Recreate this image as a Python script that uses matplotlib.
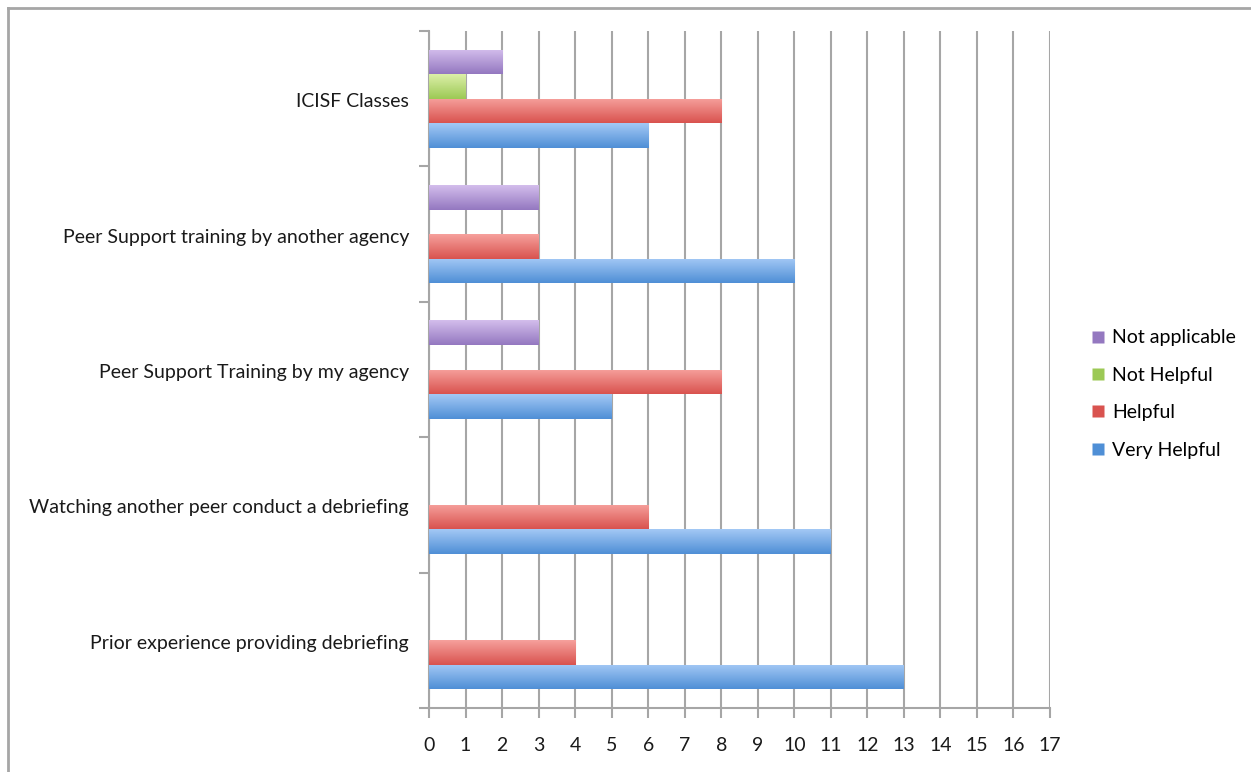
import matplotlib.pyplot as plt
import matplotlib.lines as mlines
import numpy as np

# Data, bottom to top as drawn
categories = [
    "Prior experience providing debriefing",
    "Watching another peer conduct a debriefing",
    "Peer Support Training by my agency",
    "Peer Support training by another agency",
    "ICISF Classes",
]
very_helpful = [13, 11, 5, 10, 6]
helpful = [4, 6, 8, 3, 8]
not_helpful = [0, 0, 0, 0, 1]
not_applicable = [0, 0, 3, 3, 2]

series = [
    ("Very Helpful", very_helpful, ("#a3c8f5", "#4f8fd6")),
    ("Helpful", helpful, ("#f6a09c", "#d9534f")),
    ("Not Helpful", not_helpful, ("#dcefa8", "#9cc955")),
    ("Not applicable", not_applicable, ("#d3bdec", "#9478c0")),
]

plt.rcParams["font.family"] = ["Lato", "DejaVu Sans"]

fig = plt.figure(figsize=(12.51, 7.72), dpi=100)
ax = fig.add_axes([429 / 1251, 1 - 708 / 772, (1050 - 429) / 1251, (708 - 31) / 772])

n = len(series)
h = 0.181
y = np.arange(len(categories))

legend_handles = []
for i, (name, vals, (c_top, c_bot)) in enumerate(series):
    offs = (i - (n - 1) / 2) * h
    bars = ax.barh(y + offs, vals, height=h, color=c_bot, zorder=3, linewidth=0)
    # vertical gradient on each bar
    grad = np.linspace(0, 1, 50).reshape(-1, 1)
    top = np.array(plt.matplotlib.colors.to_rgb(c_top))
    bot = np.array(plt.matplotlib.colors.to_rgb(c_bot))
    img = top[None, None, :] * (1 - grad[..., None]) + bot[None, None, :] * grad[..., None]
    for b in bars:
        if b.get_width() <= 0:
            continue
        x0, y0 = b.get_x(), b.get_y()
        im = ax.imshow(img, extent=(x0, x0 + b.get_width(), y0, y0 + b.get_height()),
                       aspect="auto", origin="upper", zorder=4, interpolation="bilinear")
        im.set_clip_path(b)
    legend_handles.append((name, c_bot))

ax.set_xlim(0, 17)
ax.set_ylim(-0.5, len(categories) - 0.5)
ax.set_xticks(range(0, 18))
ax.set_xticklabels([str(v) for v in range(0, 18)], fontsize=14)
ax.set_yticks(list(y - 0.5) + [len(categories) - 0.5])
ax.set_yticklabels([])
for i, cat in enumerate(categories):
    ax.annotate(cat, (0, y[i]), xytext=(-20, -3), textcoords="offset pixels",
                ha="right", va="center", fontsize=14, color="#1a1a1a")

ax.grid(axis="x", color="#a6a6a6", linewidth=1.5, zorder=0)
ax.set_axisbelow(True)
for s in ["top", "right"]:
    ax.spines[s].set_visible(False)
for s in ["left", "bottom"]:
    ax.spines[s].set_color("#a6a6a6")
    ax.spines[s].set_linewidth(1.5)
ax.tick_params(axis="both", colors="#a6a6a6", width=1.5, length=7, labelcolor="#1a1a1a")
ax.tick_params(axis="x", pad=14)

# legend, top entry first
handles = [mlines.Line2D([], [], marker="s", linestyle="none", markersize=8,
                         markerfacecolor=c, markeredgecolor="none") for _, c in legend_handles[::-1]]
labels = [nm for nm, _ in legend_handles[::-1]]
fig.legend(handles, labels, loc="center left", bbox_to_anchor=(1069 / 1251, 1 - 394 / 772),
           frameon=False, fontsize=14, handletextpad=0.1, labelspacing=1.05, handlelength=1.2)

# outer frame lines
fig.add_artist(mlines.Line2D([8 / 1251, 1], [1 - 8 / 772, 1 - 8 / 772], color="#a6a6a6", linewidth=2))
fig.add_artist(mlines.Line2D([8 / 1251, 8 / 1251], [0, 1 - 8 / 772], color="#a6a6a6", linewidth=2))

fig.savefig("out.png", dpi=100)
